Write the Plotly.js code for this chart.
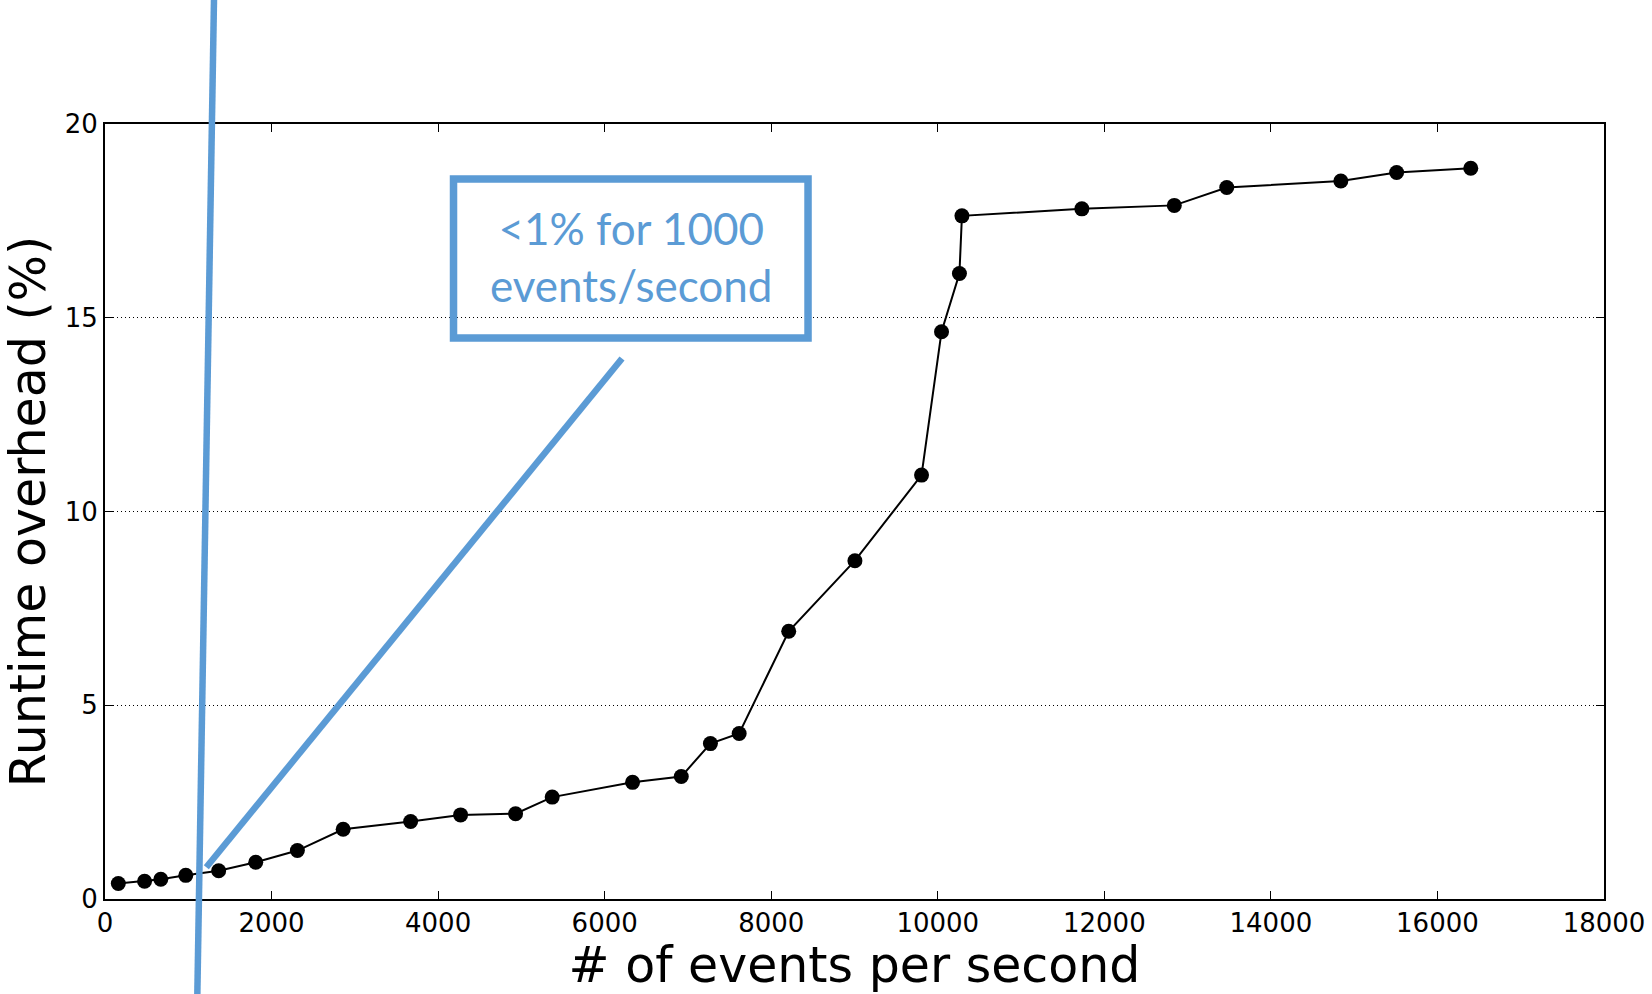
<!DOCTYPE html>
<html>
<head>
<meta charset="utf-8">
<script src="https://cdn.plot.ly/plotly-3.0.1.min.js"></script>
<style>html,body{margin:0;padding:0;background:#fff;}#chart{width:1652px;height:994px;}</style>
</head>
<body>
<div id="chart"></div>
<script>
// Data
const eventsPerSecond = [160, 475, 670, 970, 1365, 1810, 2310, 2860, 3670, 4270, 4930, 5370, 6335, 6920, 7270, 7615, 8210, 9005, 9805, 10045, 10260, 10290, 11730, 12840, 13470, 14840, 15510, 16400];
const overheadPct = [0.40, 0.46, 0.51, 0.61, 0.73, 0.95, 1.25, 1.80, 2.00, 2.17, 2.20, 2.63, 3.01, 3.16, 4.01, 4.27, 6.91, 8.73, 10.94, 14.64, 16.14, 17.63, 17.81, 17.90, 18.36, 18.53, 18.75, 18.86];
const xTickVals = [0, 2000, 4000, 6000, 8000, 10000, 12000, 14000, 16000, 18000];
const yTickVals = [0, 5, 10, 15, 20];
const calloutLines = ["<1% for 1000", "events/second"];

const blue = "#5B9BD5";

const trace = {
  x: eventsPerSecond,
  y: overheadPct,
  type: "scatter",
  mode: "lines+markers",
  line: {color: "#000", width: 2},
  marker: {color: "#000", size: 15},
  hoverinfo: "x+y",
  showlegend: false,
  cliponaxis: false
};

const axisCommon = {
  showline: true, linecolor: "#000", linewidth: 2, mirror: "ticks",
  ticks: "inside", ticklen: 8, tickwidth: 1.2, tickcolor: "#000",
  zeroline: false,
  tickfont: {family: "DejaVu Sans", size: 26, color: "#000"}
};

const layout = {
  width: 1652, height: 994,
  paper_bgcolor: "#fff", plot_bgcolor: "#fff",
  margin: {l: 105, r: 48, t: 124, b: 95},
  xaxis: Object.assign({}, axisCommon, {
    range: [0, 18000], tickvals: xTickVals, ticktext: xTickVals.map(String),
    showgrid: false,
    title: {text: "# of events per second", font: {family: "DejaVu Sans", size: 49, color: "#000"}, standoff: 3}
  }),
  yaxis: Object.assign({}, axisCommon, {
    range: [0, 20], tickvals: yTickVals, ticktext: yTickVals.map(String),
    showgrid: true, gridcolor: "#000", gridwidth: 1, griddash: "1px,3px",
    title: {text: "Runtime overhead (%)", font: {family: "DejaVu Sans", size: 49, color: "#000"}, standoff: 11}
  }),
  shapes: [
    {type: "line", xref: "paper", yref: "paper", x0: 0.0727, y0: 1.16, x1: 0.0616, y1: -0.123,
     line: {color: blue, width: 6.5}, layer: "above"},
    {type: "line", xref: "paper", yref: "paper", x0: 0.0676, y0: 0.041, x1: 0.3449, y1: 0.6974,
     line: {color: blue, width: 6.5}, layer: "above"},
    {type: "rect", xref: "paper", yref: "paper", x0: 0.2325, y0: 0.7239, x1: 0.469, y1: 0.929,
     line: {color: blue, width: 7.5}, fillcolor: "rgba(255,255,255,0)", layer: "above"}
  ],
  annotations: [
    {xref: "paper", yref: "paper", x: 0.3507, y: 0.829, xanchor: "center", yanchor: "middle",
     text: calloutLines.join("<br>"), showarrow: false, align: "center",
     font: {family: "Lato", size: 44, color: blue}}
  ]
};

Plotly.newPlot("chart", [trace], layout, {displayModeBar: false, staticPlot: true});
</script>
</body>
</html>
